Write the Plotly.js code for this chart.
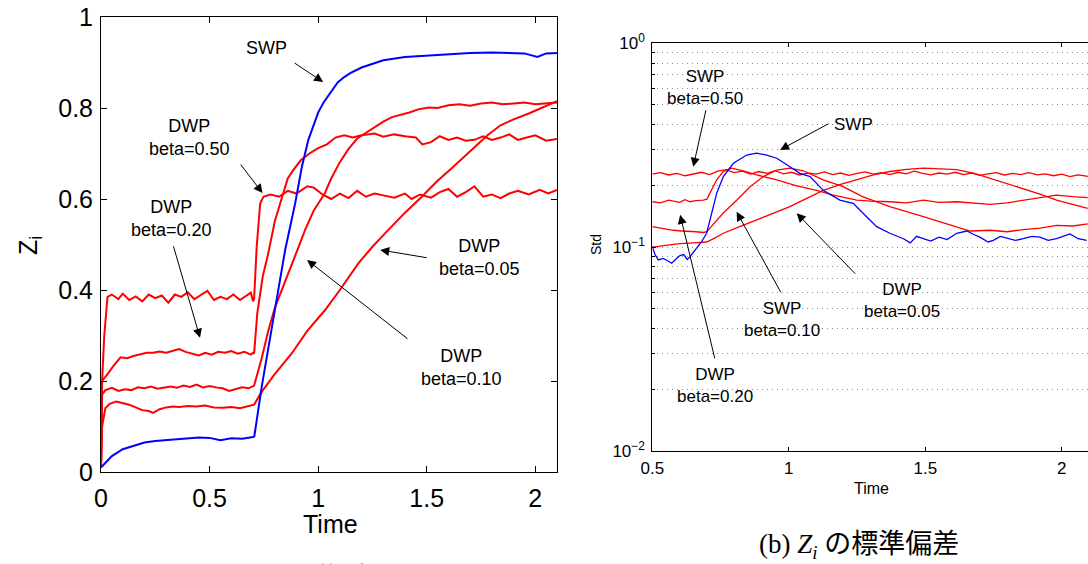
<!DOCTYPE html>
<html>
<head>
<meta charset="utf-8">
<script src="https://cdn.plot.ly/plotly-3.0.1.min.js"></script>
<style>html,body{margin:0;padding:0;background:#fff;}#chart{width:1088px;height:564px;}</style>
</head>
<body>
<div id="chart"></div>
<script>
// ---------- data: (a) mean of Z_i  [time, value] ----------
const meanSWP = [[0,0.01],[0.02,0.02],[0.05,0.035],[0.1,0.05],[0.15,0.058],[0.2,0.065],[0.25,0.068],[0.3,0.07],[0.35,0.072],[0.4,0.073],[0.45,0.076],[0.5,0.075],[0.55,0.07],[0.6,0.074],[0.65,0.073],[0.7,0.077],[0.706,0.078],[0.74,0.187],[0.78,0.3],[0.802,0.363],[0.848,0.488],[0.894,0.59],[0.925,0.671],[0.955,0.73],[0.98,0.765],[1.0,0.79],[1.025,0.812],[1.048,0.828],[1.07,0.845],[1.09,0.856],[1.12,0.868],[1.15,0.877],[1.2,0.889],[1.25,0.897],[1.3,0.905],[1.4,0.912],[1.5,0.915],[1.6,0.918],[1.7,0.921],[1.8,0.922],[1.9,0.921],[1.95,0.92],[2.01,0.912],[2.05,0.92],[2.1,0.921]];
const meanB050 = [[0,0.01],[0.005,0.2],[0.015,0.3],[0.03,0.385],[0.05,0.39],[0.08,0.38],[0.1,0.392],[0.13,0.378],[0.16,0.386],[0.19,0.375],[0.22,0.39],[0.25,0.382],[0.28,0.388],[0.31,0.372],[0.34,0.39],[0.37,0.385],[0.4,0.395],[0.43,0.38],[0.46,0.389],[0.49,0.398],[0.52,0.378],[0.55,0.385],[0.58,0.38],[0.61,0.39],[0.64,0.378],[0.67,0.388],[0.69,0.394],[0.70,0.375],[0.705,0.38],[0.717,0.495],[0.733,0.59],[0.748,0.605],[0.78,0.61],[0.82,0.605],[0.86,0.618],[0.9,0.612],[0.95,0.628],[0.98,0.625],[1.02,0.61],[1.06,0.6],[1.1,0.612],[1.14,0.602],[1.18,0.618],[1.22,0.605],[1.26,0.612],[1.3,0.608],[1.35,0.603],[1.4,0.612],[1.43,0.6],[1.47,0.61],[1.52,0.603],[1.56,0.615],[1.6,0.622],[1.64,0.605],[1.68,0.615],[1.72,0.628],[1.76,0.605],[1.8,0.61],[1.84,0.602],[1.88,0.612],[1.92,0.618],[1.97,0.61],[2.02,0.62],[2.06,0.612],[2.1,0.62]];
const meanB020 = [[0,0.01],[0.005,0.2],[0.03,0.215],[0.06,0.235],[0.09,0.252],[0.12,0.25],[0.15,0.255],[0.18,0.258],[0.21,0.262],[0.24,0.262],[0.27,0.265],[0.3,0.262],[0.33,0.266],[0.36,0.27],[0.39,0.264],[0.42,0.26],[0.45,0.256],[0.48,0.262],[0.51,0.258],[0.54,0.264],[0.57,0.262],[0.6,0.266],[0.63,0.26],[0.66,0.264],[0.69,0.258],[0.70,0.262],[0.705,0.26],[0.72,0.35],[0.745,0.43],[0.77,0.48],[0.8,0.55],[0.825,0.59],[0.86,0.645],[0.886,0.664],[0.92,0.685],[0.96,0.7],[1.0,0.712],[1.04,0.72],[1.08,0.735],[1.12,0.74],[1.16,0.735],[1.2,0.74],[1.26,0.744],[1.3,0.737],[1.35,0.742],[1.4,0.738],[1.45,0.735],[1.48,0.72],[1.52,0.725],[1.56,0.738],[1.6,0.73],[1.64,0.735],[1.68,0.728],[1.72,0.73],[1.76,0.738],[1.8,0.73],[1.84,0.735],[1.88,0.742],[1.92,0.73],[1.96,0.735],[2.0,0.74],[2.05,0.728],[2.1,0.732]];
const meanB010 = [[0,0.01],[0.005,0.17],[0.02,0.18],[0.05,0.185],[0.08,0.178],[0.11,0.182],[0.14,0.18],[0.17,0.186],[0.2,0.184],[0.23,0.188],[0.26,0.183],[0.29,0.186],[0.32,0.188],[0.35,0.185],[0.38,0.19],[0.41,0.187],[0.44,0.192],[0.47,0.186],[0.5,0.189],[0.53,0.186],[0.56,0.184],[0.59,0.178],[0.62,0.182],[0.65,0.186],[0.68,0.184],[0.7,0.188],[0.705,0.19],[0.74,0.25],[0.77,0.31],[0.802,0.363],[0.85,0.42],[0.894,0.475],[0.94,0.532],[0.98,0.575],[1.03,0.612],[1.06,0.645],[1.1,0.681],[1.14,0.71],[1.18,0.733],[1.22,0.745],[1.26,0.757],[1.3,0.77],[1.34,0.78],[1.38,0.785],[1.42,0.79],[1.46,0.797],[1.51,0.801],[1.55,0.8],[1.6,0.806],[1.65,0.808],[1.7,0.805],[1.75,0.81],[1.8,0.812],[1.85,0.808],[1.9,0.81],[1.95,0.812],[2.0,0.808],[2.05,0.81],[2.1,0.812]];
const meanB005 = [[0,0.01],[0.005,0.1],[0.02,0.14],[0.04,0.15],[0.07,0.155],[0.1,0.152],[0.13,0.148],[0.16,0.142],[0.19,0.136],[0.22,0.134],[0.24,0.13],[0.27,0.138],[0.3,0.142],[0.33,0.144],[0.36,0.143],[0.4,0.145],[0.44,0.144],[0.48,0.146],[0.52,0.142],[0.56,0.141],[0.6,0.143],[0.64,0.14],[0.67,0.144],[0.7,0.147],[0.705,0.148],[0.74,0.176],[0.8,0.215],[0.879,0.261],[0.95,0.31],[1.032,0.356],[1.1,0.4],[1.186,0.459],[1.25,0.495],[1.309,0.525],[1.4,0.57],[1.475,0.604],[1.55,0.64],[1.62,0.67],[1.71,0.71],[1.78,0.74],[1.84,0.762],[1.9,0.775],[1.97,0.788],[2.03,0.8],[2.1,0.815]];

// ---------- data: (b) std of Z_i  [time, value] ----------
const stdSWP = [[0.5,0.1005],[0.51,0.092],[0.522,0.0865],[0.54,0.088],[0.555,0.086],[0.571,0.0834],[0.585,0.087],[0.601,0.091],[0.615,0.092],[0.628,0.087],[0.638,0.0898],[0.65,0.094],[0.663,0.1],[0.68,0.106],[0.699,0.117],[0.72,0.15],[0.736,0.184],[0.76,0.222],[0.797,0.258],[0.846,0.283],[0.882,0.289],[0.919,0.283],[0.956,0.273],[1.004,0.248],[1.041,0.23],[1.078,0.222],[1.126,0.19],[1.187,0.17],[1.236,0.164],[1.285,0.141],[1.322,0.126],[1.37,0.117],[1.42,0.11],[1.445,0.105],[1.468,0.113],[1.493,0.11],[1.52,0.107],[1.55,0.112],[1.58,0.109],[1.615,0.117],[1.652,0.12],[1.68,0.115],[1.70,0.112],[1.73,0.106],[1.749,0.108],[1.775,0.113],[1.798,0.111],[1.83,0.108],[1.859,0.11],[1.89,0.113],[1.92,0.112],[1.95,0.108],[1.981,0.11],[2.03,0.116],[2.06,0.11],[2.091,0.108]];
const stdB050 = [[0.5,0.228],[0.53,0.232],[0.56,0.226],[0.59,0.23],[0.62,0.224],[0.65,0.229],[0.68,0.233],[0.71,0.227],[0.74,0.236],[0.77,0.24],[0.8,0.232],[0.83,0.236],[0.86,0.228],[0.89,0.235],[0.92,0.23],[0.95,0.237],[0.98,0.229],[1.01,0.233],[1.04,0.226],[1.07,0.231],[1.1,0.228],[1.13,0.234],[1.16,0.227],[1.19,0.231],[1.22,0.225],[1.25,0.23],[1.28,0.234],[1.31,0.228],[1.34,0.232],[1.37,0.227],[1.4,0.233],[1.43,0.229],[1.46,0.236],[1.49,0.23],[1.52,0.226],[1.55,0.231],[1.58,0.228],[1.61,0.233],[1.64,0.227],[1.67,0.231],[1.7,0.225],[1.73,0.229],[1.76,0.232],[1.79,0.226],[1.82,0.23],[1.85,0.227],[1.88,0.232],[1.91,0.226],[1.94,0.229],[1.97,0.224],[2.0,0.228],[2.03,0.222],[2.06,0.226],[2.1,0.222]];
const stdB020 = [[0.5,0.167],[0.53,0.165],[0.56,0.17],[0.577,0.168],[0.6,0.166],[0.62,0.171],[0.638,0.167],[0.66,0.169],[0.687,0.17],[0.7,0.172],[0.711,0.184],[0.736,0.214],[0.76,0.235],[0.791,0.244],[0.833,0.237],[0.882,0.226],[0.956,0.214],[1.029,0.2],[1.102,0.19],[1.163,0.18],[1.249,0.17],[1.3,0.168],[1.37,0.167],[1.43,0.165],[1.493,0.17],[1.55,0.166],[1.615,0.167],[1.68,0.164],[1.737,0.162],[1.8,0.165],[1.859,0.17],[1.92,0.174],[1.981,0.18],[2.04,0.177],[2.095,0.175]];
const stdB010 = [[0.5,0.126],[0.54,0.123],[0.577,0.121],[0.61,0.12],[0.638,0.12],[0.66,0.119],[0.687,0.118],[0.7,0.119],[0.711,0.124],[0.735,0.135],[0.76,0.147],[0.809,0.17],[0.858,0.198],[0.907,0.222],[0.956,0.239],[1.004,0.244],[1.053,0.237],[1.126,0.214],[1.199,0.198],[1.27,0.177],[1.37,0.158],[1.493,0.141],[1.615,0.126],[1.664,0.12],[1.737,0.121],[1.8,0.119],[1.859,0.122],[1.92,0.124],[1.981,0.128],[2.04,0.127],[2.095,0.13]];
const stdB005 = [[0.5,0.1],[0.55,0.102],[0.6,0.104],[0.65,0.105],[0.699,0.106],[0.73,0.111],[0.76,0.117],[0.82,0.126],[0.882,0.136],[0.94,0.146],[1.004,0.158],[1.06,0.172],[1.126,0.19],[1.19,0.203],[1.249,0.214],[1.31,0.226],[1.37,0.235],[1.43,0.241],[1.493,0.244],[1.55,0.243],[1.615,0.24],[1.68,0.23],[1.737,0.218],[1.8,0.205],[1.859,0.194],[1.92,0.182],[1.981,0.17],[2.04,0.162],[2.095,0.155]];

// ---------- tick labels ----------
const meanXTicks = [0, 0.5, 1, 1.5, 2];
const meanXLabels = ['0', '0.5', '1', '1.5', '2'];
const meanYTicks = [0, 0.2, 0.4, 0.6, 0.8, 1];
const meanYLabels = ['0', '0.2', '0.4', '0.6', '0.8', '1'];
const stdXTicks = [0.5, 1, 1.5, 2];
const stdXLabels = ['0.5', '1', '1.5', '2'];
const stdYTicks = [0.01, 0.1, 1];
const stdYLabels = ['10<sup>\u22122</sup>', '10<sup>\u22121</sup>', '10<sup>0</sup>'];
const stdYMinor = [0.02,0.03,0.04,0.05,0.06,0.07,0.08,0.09,0.2,0.3,0.4,0.5,0.6,0.7,0.8,0.9];

// ---------- annotation texts ----------
const meanLabels = ['SWP', 'DWP<br>beta=0.50', 'DWP<br>beta=0.20', 'DWP<br>beta=0.05', 'DWP<br>beta=0.10'];
const stdLabels = ['SWP<br>beta=0.50', 'SWP', 'DWP<br>beta=0.20', 'SWP<br>beta=0.10', 'DWP<br>beta=0.05'];

const W = 1088, H = 564;
const SANS = 'Liberation Sans, Arial, Helvetica, sans-serif';
const SERIF = 'Liberation Serif, Noto Sans CJK JP, serif';
const RED = '#ff0000', BLUE = '#0000ff';

function tr(pairs, color, width, xa, ya) {
  return {
    x: pairs.map(p => p[0]), y: pairs.map(p => p[1]),
    type: 'scatter', mode: 'lines', xaxis: xa, yaxis: ya,
    line: {color: color, width: width}, hoverinfo: 'skip', showlegend: false
  };
}

const data = [
  tr(meanB050, RED, 2, 'x', 'y'),
  tr(meanB020, RED, 2, 'x', 'y'),
  tr(meanB010, RED, 2, 'x', 'y'),
  tr(meanB005, RED, 2, 'x', 'y'),
  tr(meanSWP, BLUE, 2, 'x', 'y'),
  tr(stdB050, RED, 1.3, 'x2', 'y2'),
  tr(stdB020, RED, 1.3, 'x2', 'y2'),
  tr(stdB010, RED, 1.3, 'x2', 'y2'),
  tr(stdB005, RED, 1.3, 'x2', 'y2'),
  tr(stdSWP, BLUE, 1.3, 'x2', 'y2')
];

// pixel -> paper helpers for label placement
function P(px, py) { return {x: px / W, y: 1 - py / H, xref: 'paper', yref: 'paper'}; }
function label(px, py, text, size, extra) {
  return Object.assign(P(px, py), {
    text: text, showarrow: false, xanchor: 'center', yanchor: 'middle', align: 'center',
    font: {family: SANS, size: size, color: '#000'}
  }, extra || {});
}
function arrow(xr, yr, x, y, dx, dy) {
  return {xref: xr, yref: yr, x: x, y: y, ax: dx, ay: dy, axref: 'pixel', ayref: 'pixel',
    text: '', showarrow: true, arrowhead: 2, arrowsize: 1.8, arrowwidth: 1, arrowcolor: '#000', standoff: 0};
}

const annotations = [
  // (a) texts
  label(266, 48, meanLabels[0], 18),
  label(189, 137, meanLabels[1], 18),
  label(171, 218, meanLabels[2], 18),
  label(479, 258, meanLabels[3], 18),
  label(461, 367, meanLabels[4], 18),
  // (a) arrows
  arrow('x', 'y', 1.023, 0.857, -30, -20),
  arrow('x', 'y', 0.744, 0.613, -23, -30),
  arrow('x', 'y', 0.456, 0.295, -27, -93),
  arrow('x', 'y', 1.286, 0.488, 48, 8),
  arrow('x', 'y', 0.949, 0.466, 102, 80),
  // (b) texts
  label(705, 87, stdLabels[0], 17),
  label(853, 125, stdLabels[1], 17),
  label(715, 385, stdLabels[2], 17),
  label(782, 319, stdLabels[3], 17),
  label(902, 300, stdLabels[4], 17),
  // (b) arrows (log axis -> log10 positions)
  arrow('x2', 'y2', 0.650, Math.log10(0.248), 13, -58),
  arrow('x2', 'y2', 0.968, Math.log10(0.300), 50, -27),
  arrow('x2', 'y2', 0.602, Math.log10(0.144), 35, 145),
  arrow('x2', 'y2', 0.809, Math.log10(0.149), 45, 82),
  arrow('x2', 'y2', 1.029, Math.log10(0.1466), 60, 62),
  // axis titles
  label(330, 524, 'Time', 25),
  label(30, 246, 'Z<sub>i</sub>', 25, {textangle: -90}),
  label(871, 488, 'Time', 16),
  label(596, 245, 'Std', 14, {textangle: -90}),
  // captions
  label(859, 546, '(b) <i>Z</i><sub><i>i</i></sub> の標準偏差', 27,
        {font: {family: SERIF, size: 27, color: '#000'}}),
  label(285, 580, '(a) <i>Z</i><sub><i>i</i></sub> の平均値', 27,
        {font: {family: SERIF, size: 27, color: '#000'}})
];

const axBase = {
  showline: true, linecolor: '#000', linewidth: 1, ticks: 'inside', tickcolor: '#000',
  showgrid: false, zeroline: false, mirror: 'ticks', tickmode: 'array'
};

const layout = {
  width: W, height: H,
  margin: {l: 0, r: 0, t: 0, b: 0, pad: 0},
  paper_bgcolor: '#fff', plot_bgcolor: '#fff',
  showlegend: false,
  font: {family: SANS, color: '#000'},
  xaxis: Object.assign({}, axBase, {
    domain: [101 / W, 557 / W], range: [0, 2.1], anchor: 'y',
    tickvals: meanXTicks, ticktext: meanXLabels, ticklen: 6,
    tickfont: {family: SANS, size: 25, color: '#000'}, ticklabelstandoff: 4
  }),
  yaxis: Object.assign({}, axBase, {
    domain: [1 - 472 / H, 1 - 17 / H], range: [0, 1], anchor: 'x',
    tickvals: meanYTicks, ticktext: meanYLabels, ticklen: 6,
    tickfont: {family: SANS, size: 25, color: '#000'}, ticklabelstandoff: 2
  }),
  xaxis2: Object.assign({}, axBase, {
    domain: [652.3 / W, 1], range: [0.5, 2.096], anchor: 'y2',
    tickvals: stdXTicks, ticktext: stdXLabels, ticklen: 4,
    tickfont: {family: SANS, size: 17, color: '#000'}, ticklabelstandoff: 2
  }),
  yaxis2: Object.assign({}, axBase, {
    type: 'log', domain: [1 - 451 / H, 1 - 43.3 / H], range: [-2, 0], anchor: 'x2',
    mirror: false,
    tickvals: stdYTicks, ticktext: stdYLabels, ticklen: 4,
    tickfont: {family: SANS, size: 17, color: '#000'}, ticklabelstandoff: 3,
    showgrid: true, gridcolor: '#8c8c8c', griddash: '1px,4px', gridwidth: 1,
    minor: {tickmode: 'array', tickvals: stdYMinor, showgrid: true, gridcolor: '#8c8c8c',
            griddash: '1px,4px', gridwidth: 1, ticks: 'inside', ticklen: 3, tickcolor: '#000'}
  }),
  annotations: annotations
};

Plotly.newPlot('chart', data, layout, {staticPlot: true, displayModeBar: false});
</script>
</body>
</html>
